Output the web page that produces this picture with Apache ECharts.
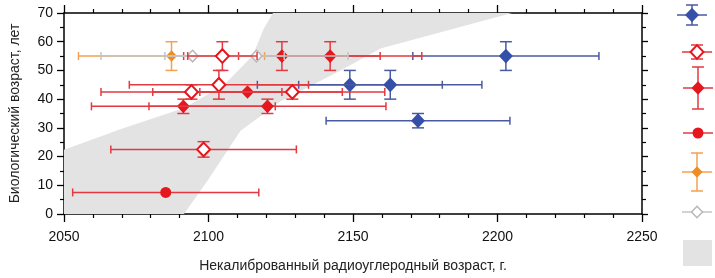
<!DOCTYPE html>
<html>
<head>
<meta charset="utf-8">
<script src="https://cdn.jsdelivr.net/npm/echarts@6/dist/echarts.min.js"></script>
<style>
  html, body { margin: 0; padding: 0; background: #fff; }
  #chart { width: 715px; height: 278px; }
</style>
</head>
<body>
<div id="chart"></div>
<script>
// axis ticks
var xTicks = [2050, 2100, 2150, 2200, 2250];
var yTicks = [0, 10, 20, 30, 40, 50, 60, 70];

// points: x, y, +-x, +-y
var blueX = [2202.9, 2148.9, 2162.9, 2172.5];
var blueY = [55, 45, 45, 32.5];
var blueXErr = [32.2, 32, 31.7, 31.8];
var blueYErr = [5, 5, 5, 2.5];

var redFillX = [2125.4, 2142.1, 2113.5, 2091.3, 2120.4];
var redFillY = [55, 55, 42.5, 37.5, 37.5];
var redFillXErr = [34, 31.7, 32.8, 31.8, 41];
var redFillYErr = [5, 5, 0, 2.5, 2.5];

var redCircX = [2085.2];
var redCircY = [7.5];
var redCircXErr = [32.2];
var redCircYErr = [0];

var orangeX = [2087.2];
var orangeY = [55];
var orangeXErr = [32.2];
var orangeYErr = [5];

var grayX = [2094.5, 2116.6];
var grayY = [55, 55];
var grayXErr = [31.7, 31.7];
var grayYErr = [0, 0];

var redOpenX = [2104.8, 2103.6, 2094.1, 2129.0, 2098.3];
var redOpenY = [55, 45, 42.5, 42.5, 22.5];
var redOpenXErr = [12, 31, 31.3, 32, 32.1];
var redOpenYErr = [5, 5, 2.5, 2.5, 2.7];

// shaded band outline
var bandX = [2050, 2050, 2070, 2091.5, 2105.3, 2115.3, 2119.1, 2122.3, 2205, 2159.5, 2145.7, 2125, 2111.1, 2099.7, 2091.5];
var bandY = [0, 22.4, 29.7, 36.9, 44.8, 55.2, 64.5, 70, 70, 57.6, 50, 39.3, 29, 11.7, 0];

function rows(xs, ys, ex, ey) {
  var out = [];
  for (let i = 0; i < xs.length; i++) out.push([xs[i], ys[i], ex[i], ey[i]]);
  return out;
}

function markerShape(kind, cx, cy, s) {
  if (kind == "circle") return { type: "circle", shape: { cx: cx, cy: cy, r: s } };
  return {
    type: "polygon",
    shape: { points: [[cx, cy - s * 1.05], [cx + s, cy], [cx, cy + s * 1.05], [cx - s, cy]] },
  };
}

function errSeries(name, data, lineColor, markColor, kind, size, open) {
  return {
    name: name,
    type: "custom",
    data: data,
    encode: { x: 0, y: 1 },
    renderItem: function (params, api) {
      var x = api.value(0), y = api.value(1), ex = api.value(2), ey = api.value(3);
      var p = api.coord([x, y]);
      var l = api.coord([x - ex, y]);
      var r = api.coord([x + ex, y]);
      var ls = { stroke: lineColor, lineWidth: 1.5 };
      var kids = [
        { type: "line", shape: { x1: l[0], y1: p[1], x2: r[0], y2: p[1] }, style: ls },
        { type: "line", shape: { x1: l[0], y1: p[1] - 4, x2: l[0], y2: p[1] + 4 }, style: ls },
        { type: "line", shape: { x1: r[0], y1: p[1] - 4, x2: r[0], y2: p[1] + 4 }, style: ls },
      ];
      if (ey > 0) {
        var t = api.coord([x, y + ey]);
        var b = api.coord([x, y - ey]);
        kids.push({ type: "line", shape: { x1: p[0], y1: t[1], x2: p[0], y2: b[1] }, style: ls });
        kids.push({ type: "line", shape: { x1: p[0] - 6, y1: t[1], x2: p[0] + 6, y2: t[1] }, style: ls });
        kids.push({ type: "line", shape: { x1: p[0] - 6, y1: b[1], x2: p[0] + 6, y2: b[1] }, style: ls });
      }
      var m = markerShape(kind, p[0], p[1], size);
      m.style = open
        ? { fill: "#fff", stroke: markColor, lineWidth: open }
        : { fill: markColor };
      kids.push(m);
      return { type: "group", children: kids };
    },
    z: 3,
  };
}

// legend glyphs on the right (no text)
function legendGlyph(cx, cy, lineColor, markColor, kind, size, open, vh) {
  var ls = { stroke: lineColor, lineWidth: 1.5 };
  var kids = [
    { type: "line", shape: { x1: cx - 15, y1: cy, x2: cx + 15, y2: cy }, style: ls },
  ];
  if (vh) {
    kids.push({ type: "line", shape: { x1: cx, y1: cy - vh, x2: cx, y2: cy + vh }, style: ls });
    kids.push({ type: "line", shape: { x1: cx - 6, y1: cy - vh, x2: cx + 6, y2: cy - vh }, style: ls });
    kids.push({ type: "line", shape: { x1: cx - 6, y1: cy + vh, x2: cx + 6, y2: cy + vh }, style: ls });
  }
  var m = markerShape(kind, cx, cy, size);
  m.style = open ? { fill: "#fff", stroke: markColor, lineWidth: open } : { fill: markColor };
  kids.push(m);
  return { type: "group", children: kids };
}

var dom = document.getElementById("chart");
var myChart = echarts.init(dom);

var blueLine = "#4a5aa0", blueMark = "#3550a8";
var redLine = "#e23a40", redMark = "#e5161e";
var orangeLine = "#f4a150", orangeMark = "#f08c24";
var grayLine = "#c4c4c4", grayMark = "#b8b8b8";

function plain(v) { return String(v); }

function makeX(pos, labels) {
  var a = {
    type: "value",
    position: pos,
    min: xTicks[0],
    max: xTicks[xTicks.length - 1],
    interval: 50,
    axisLine: { show: true, onZero: false, lineStyle: { color: "#000", width: 1.5 } },
    axisTick: { show: true, length: 8, customValues: xTicks, lineStyle: { color: "#000", width: 1.3 } },
    minorTick: { show: true, splitNumber: 5, length: 4, lineStyle: { color: "#000", width: 1.2 } },
    axisLabel: { show: false },
    splitLine: { show: false },
  };
  if (labels) {
    a.axisLabel = { show: true, margin: 16, formatter: plain, customValues: xTicks,
      fontFamily: "Liberation Sans", fontSize: 14, color: "#111" };
    a.name = "Некалиброванный радиоуглеродный возраст, г.";
    a.nameLocation = "middle";
    a.nameGap = 45;
    a.nameTextStyle = { fontFamily: "Liberation Sans", fontSize: 14, color: "#222" };
  }
  return a;
}

function makeY(pos, labels) {
  var a = {
    type: "value",
    position: pos,
    min: yTicks[0],
    max: yTicks[yTicks.length - 1],
    interval: 10,
    axisLine: { show: true, onZero: false, lineStyle: { color: "#000", width: 1.5 } },
    axisTick: { show: true, length: labels ? 7 : 6, customValues: yTicks, lineStyle: { color: "#000", width: 1.3 } },
    minorTick: { show: true, splitNumber: 2, length: 4, lineStyle: { color: "#000", width: 1.2 } },
    axisLabel: { show: false },
    splitLine: { show: false },
  };
  if (labels) {
    a.axisLabel = { show: true, margin: 11, formatter: plain, customValues: yTicks,
      fontFamily: "Liberation Sans", fontSize: 14, color: "#111" };
    a.name = "Биологический возраст, лет";
    a.nameLocation = "middle";
    a.nameGap = 42;
    a.nameTextStyle = { fontFamily: "Liberation Sans", fontSize: 14, color: "#222" };
  }
  return a;
}

var option = {
  animation: false,
  grid: { left: 63, right: 73, top: 13, bottom: 61 },
  xAxis: [makeX("bottom", true), makeX("top", false)],
  yAxis: [makeY("left", true), makeY("right", false)],
  graphic: [
    legendGlyph(692, 15, blueLine, blueMark, "diamond", 7, 0, 10),
    legendGlyph(697, 52, redLine, redMark, "diamond", 6.5, 2, 7),
    legendGlyph(698, 88, redLine, redMark, "diamond", 6.5, 0, 21),
    legendGlyph(698, 133, redLine, redMark, "circle", 5.5, 0, 0),
    legendGlyph(697, 172, orangeLine, orangeMark, "diamond", 5.5, 0, 19),
    legendGlyph(697, 212, grayLine, grayMark, "diamond", 5.5, 1.5, 0),
    { type: "rect", shape: { x: 683, y: 240, width: 29, height: 26 }, style: { fill: "#e3e3e3" } },
  ],
  series: [
    {
      name: "band",
      type: "custom",
      data: [0],
      renderItem: function (params, api) {
        var pts = [];
        for (let i = 0; i < bandX.length; i++) pts.push(api.coord([bandX[i], bandY[i]]));
        return { type: "polygon", shape: { points: pts }, style: { fill: "#e3e3e3" } };
      },
      z: 1,
      silent: true,
    },
    errSeries("blue", rows(blueX, blueY, blueXErr, blueYErr), blueLine, blueMark, "diamond", 7, 0),
    errSeries("redFill", rows(redFillX, redFillY, redFillXErr, redFillYErr), redLine, redMark, "diamond", 6.5, 0),
    errSeries("redCirc", rows(redCircX, redCircY, redCircXErr, redCircYErr), redLine, redMark, "circle", 5.5, 0),
    errSeries("orange", rows(orangeX, orangeY, orangeXErr, orangeYErr), orangeLine, orangeMark, "diamond", 5.5, 0),
    errSeries("gray", rows(grayX, grayY, grayXErr, grayYErr), grayLine, grayMark, "diamond", 5.5, 1.5),
    errSeries("redOpen", rows(redOpenX, redOpenY, redOpenXErr, redOpenYErr), redLine, redMark, "diamond", 6.5, 2),
  ],
};

if (option && typeof option === "object") {
  myChart.setOption(option);
}
</script>
</body>
</html>
